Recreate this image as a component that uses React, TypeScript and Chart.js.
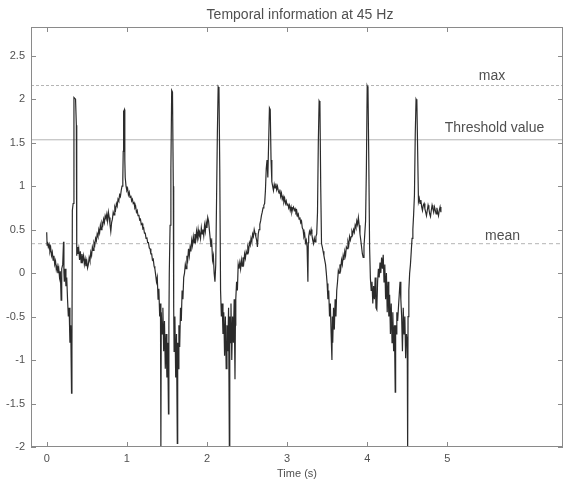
import React, { useEffect, useRef } from "react";
import { Chart, registerables } from "chart.js";

Chart.register(...registerables);

// ---- data ----
const traceTime = [
  0, 0.005, 0.01, 0.02, 0.03, 0.04, 0.05, 0.06, 0.07, 0.08,
  0.09, 0.10, 0.11, 0.12, 0.13, 0.14, 0.15, 0.16, 0.17, 0.18,
  0.185, 0.19, 0.20, 0.21, 0.215, 0.22, 0.23, 0.24, 0.25, 0.26,
  0.27, 0.28, 0.29, 0.30, 0.31, 0.315, 0.32, 0.33, 0.34, 0.36,
  0.37, 0.375, 0.38, 0.39, 0.40, 0.41, 0.42, 0.43, 0.44, 0.45,
  0.46, 0.47, 0.48, 0.49, 0.50, 0.51, 0.52, 0.53, 0.54, 0.55,
  0.56, 0.57, 0.58, 0.59, 0.60, 0.61, 0.62, 0.63, 0.64, 0.65,
  0.66, 0.67, 0.68, 0.69, 0.70, 0.71, 0.72, 0.73, 0.74, 0.75,
  0.76, 0.77, 0.78, 0.79, 0.80, 0.81, 0.82, 0.83, 0.84, 0.85,
  0.86, 0.87, 0.88, 0.89, 0.90, 0.91, 0.92, 0.93, 0.94, 0.95,
  0.955, 0.96, 0.97, 0.975, 0.98, 0.99, 1.00, 1.01, 1.02, 1.03,
  1.04, 1.05, 1.06, 1.07, 1.08, 1.09, 1.10, 1.11, 1.12, 1.13,
  1.14, 1.15, 1.16, 1.17, 1.18, 1.19, 1.20, 1.21, 1.22, 1.23,
  1.24, 1.25, 1.26, 1.27, 1.28, 1.29, 1.30, 1.31, 1.32, 1.33,
  1.34, 1.35, 1.36, 1.37, 1.38, 1.39, 1.40, 1.41, 1.42, 1.425,
  1.43, 1.44, 1.45, 1.46, 1.47, 1.48, 1.49, 1.50, 1.51, 1.52,
  1.525, 1.53, 1.54, 1.55, 1.56, 1.57, 1.58, 1.585, 1.59, 1.60,
  1.61, 1.62, 1.63, 1.635, 1.64, 1.65, 1.66, 1.67, 1.68, 1.69,
  1.70, 1.71, 1.72, 1.73, 1.74, 1.75, 1.76, 1.77, 1.78, 1.79,
  1.80, 1.81, 1.82, 1.83, 1.84, 1.85, 1.86, 1.87, 1.88, 1.89,
  1.90, 1.91, 1.92, 1.93, 1.94, 1.95, 1.96, 1.97, 1.98, 1.99,
  2.00, 2.01, 2.02, 2.03, 2.04, 2.05, 2.06, 2.07, 2.08, 2.09,
  2.10, 2.11, 2.12, 2.13, 2.14, 2.15, 2.16, 2.17, 2.18, 2.19,
  2.20, 2.21, 2.22, 2.23, 2.24, 2.25, 2.26, 2.27, 2.28, 2.285,
  2.29, 2.30, 2.31, 2.32, 2.33, 2.34, 2.35, 2.355, 2.36, 2.37,
  2.38, 2.39, 2.40, 2.41, 2.42, 2.43, 2.44, 2.45, 2.46, 2.47,
  2.48, 2.49, 2.50, 2.51, 2.52, 2.53, 2.54, 2.55, 2.56, 2.57,
  2.58, 2.59, 2.60, 2.61, 2.62, 2.63, 2.64, 2.65, 2.66, 2.67,
  2.68, 2.69, 2.70, 2.71, 2.72, 2.73, 2.74, 2.75, 2.76, 2.77,
  2.78, 2.79, 2.80, 2.81, 2.82, 2.83, 2.84, 2.85, 2.86, 2.87,
  2.88, 2.89, 2.90, 2.91, 2.92, 2.93, 2.94, 2.95, 2.96, 2.97,
  2.98, 2.99, 3.00, 3.01, 3.02, 3.03, 3.04, 3.05, 3.06, 3.07,
  3.08, 3.09, 3.10, 3.11, 3.12, 3.13, 3.14, 3.15, 3.16, 3.17,
  3.18, 3.19, 3.20, 3.21, 3.22, 3.23, 3.24, 3.25, 3.26, 3.265,
  3.27, 3.28, 3.29, 3.30, 3.31, 3.32, 3.33, 3.34, 3.35, 3.36,
  3.37, 3.38, 3.39, 3.40, 3.41, 3.42, 3.43, 3.44, 3.45, 3.46,
  3.47, 3.48, 3.49, 3.50, 3.51, 3.52, 3.53, 3.54, 3.55, 3.56,
  3.565, 3.57, 3.58, 3.59, 3.60, 3.61, 3.62, 3.63, 3.64, 3.65,
  3.66, 3.67, 3.68, 3.69, 3.70, 3.71, 3.72, 3.73, 3.74, 3.75,
  3.76, 3.77, 3.78, 3.79, 3.80, 3.81, 3.82, 3.83, 3.84, 3.85,
  3.86, 3.87, 3.88, 3.89, 3.90, 3.91, 3.92, 3.93, 3.94, 3.95,
  3.96, 3.97, 3.98, 3.99, 4.00, 4.01, 4.02, 4.03, 4.04, 4.05,
  4.06, 4.07, 4.08, 4.09, 4.10, 4.11, 4.12, 4.13, 4.14, 4.15,
  4.16, 4.17, 4.18, 4.19, 4.20, 4.21, 4.22, 4.23, 4.24, 4.25,
  4.26, 4.27, 4.28, 4.29, 4.30, 4.31, 4.32, 4.33, 4.34, 4.35,
  4.355, 4.36, 4.37, 4.38, 4.39, 4.40, 4.41, 4.42, 4.43, 4.44,
  4.45, 4.46, 4.47, 4.48, 4.49, 4.50, 4.505, 4.51, 4.52, 4.53,
  4.54, 4.55, 4.56, 4.57, 4.58, 4.59, 4.60, 4.61, 4.62, 4.63,
  4.64, 4.65, 4.66, 4.67, 4.68, 4.69, 4.70, 4.71, 4.72, 4.73,
  4.74, 4.75, 4.76, 4.77, 4.78, 4.79, 4.80, 4.81, 4.82, 4.83,
  4.84, 4.85, 4.86, 4.87, 4.88, 4.89, 4.90, 4.91, 4.92,
];

const traceValue = [
  0.47, 0.32, 0.36, 0.30, 0.33, 0.25, 0.29, 0.20, 0.24, 0.15,
  0.20, 0.10, 0.14, 0.04, 0.08, 0.00, 0.06, -0.05, 0.02, -0.31,
  0.00, 0.05, 0.10, 0.36, 0.00, -0.10, 0.05, -0.15, -0.05, -0.30,
  -0.50, -0.40, -0.80, -0.60, -1.38, -0.90, 0.72, 0.80, 2.02, 2.00,
  1.70, 0.20, 0.30, 0.22, 0.28, 0.15, 0.25, 0.12, 0.22, 0.15,
  0.20, 0.10, 0.16, 0.08, 0.14, 0.06, 0.10, 0.18, 0.14, 0.24,
  0.20, 0.30, 0.26, 0.35, 0.32, 0.40, 0.37, 0.45, 0.42, 0.50,
  0.46, 0.55, 0.50, 0.58, 0.55, 0.62, 0.58, 0.66, 0.63, 0.68,
  0.60, 0.70, 0.64, 0.56, 0.48, 0.58, 0.62, 0.70, 0.67, 0.76,
  0.73, 0.80, 0.77, 0.85, 0.83, 0.90, 0.88, 0.95, 1.00, 1.08,
  1.40, 1.86, 1.88, 1.30, 1.10, 1.00, 0.95, 0.97, 0.90, 0.93,
  0.87, 0.89, 0.83, 0.85, 0.80, 0.81, 0.75, 0.77, 0.70, 0.72,
  0.66, 0.67, 0.61, 0.62, 0.56, 0.57, 0.51, 0.52, 0.46, 0.46,
  0.40, 0.41, 0.35, 0.35, 0.29, 0.28, 0.22, 0.22, 0.15, 0.16,
  0.08, 0.05, -0.02, -0.10, -0.05, -0.30, -0.18, -0.50, -0.35, -2.05,
  -0.45, -0.70, -0.40, -0.90, -0.55, -1.10, -0.70, -1.20, -0.80, -1.62,
  -0.60, 0.00, 0.55, 1.20, 2.10, 2.08, 1.00, -0.40, -0.90, -0.50,
  -1.20, -0.70, -1.96, -0.80, -1.10, -0.60, -0.85, -0.40, -0.55, -0.20,
  -0.30, -0.05, 0.00, 0.10, 0.05, 0.20, 0.15, 0.28, 0.20, 0.30,
  0.25, 0.38, 0.32, 0.42, 0.35, 0.45, 0.38, 0.48, 0.40, 0.50,
  0.42, 0.46, 0.40, 0.52, 0.45, 0.50, 0.43, 0.55, 0.48, 0.58,
  0.52, 0.64, 0.60, 0.50, 0.40, 0.30, 0.35, 0.15, 0.20, 0.00,
  -0.10, 0.10, 0.84, 1.60, 2.14, 2.12, 1.20, -0.20, -0.50, -0.35,
  -0.70, -0.45, -0.95, -0.50, -1.10, -0.60, -0.90, -0.40, -2.05, -0.50,
  -0.80, -0.35, -1.00, -0.50, -0.80, -0.30, -1.22, -0.60, -0.30, -0.10,
  -0.20, 0.10, 0.05, 0.12, 0.05, 0.15, 0.08, 0.18, 0.12, 0.22,
  0.17, 0.25, 0.22, 0.30, 0.26, 0.35, 0.32, 0.40, 0.36, 0.45,
  0.42, 0.50, 0.46, 0.42, 0.38, 0.30, 0.45, 0.50, 0.56, 0.60,
  0.66, 0.70, 0.75, 0.78, 0.80, 0.95, 1.20, 1.30, 1.10, 1.50,
  1.90, 1.88, 1.30, 1.05, 1.00, 0.95, 1.02, 0.98, 1.03, 0.96,
  1.00, 0.95, 0.92, 0.96, 0.88, 0.92, 0.85, 0.88, 0.82, 0.86,
  0.80, 0.83, 0.78, 0.80, 0.75, 0.78, 0.72, 0.76, 0.70, 0.74,
  0.76, 0.72, 0.74, 0.70, 0.72, 0.66, 0.68, 0.62, 0.64, 0.58,
  0.60, 0.52, 0.50, 0.42, 0.45, 0.35, 0.38, 0.30, -0.10, 0.35,
  0.42, 0.48, 0.45, 0.50, 0.44, 0.38, 0.34, 0.40, 0.36, 0.42,
  0.45, 0.70, 1.50, 1.98, 1.96, 1.00, 0.34, 0.30, 0.25, 0.20,
  0.15, 0.10, 0.00, -0.12, -0.30, -0.20, -0.50, -0.35, -0.70, -1.00,
  -0.50, -0.80, -0.40, -0.65, -0.30, -0.50, -0.20, -0.10, 0.03, 0.00,
  0.10, 0.05, 0.15, 0.10, 0.20, 0.15, 0.25, 0.20, 0.30, 0.28,
  0.36, 0.32, 0.42, 0.38, 0.42, 0.48, 0.45, 0.50, 0.47, 0.55,
  0.52, 0.60, 0.56, 0.64, 0.55, 0.45, 0.38, 0.30, 0.22, 0.18,
  0.30, 0.45, 0.60, 1.20, 2.15, 2.12, 1.30, 0.30, -0.06, -0.20,
  -0.10, -0.35, -0.15, -0.30, -0.05, -0.40, -0.42, -0.10, 0.05, -0.05,
  0.12, 0.00, 0.18, 0.05, 0.21, -0.10, 0.10, -0.30, 0.00, -0.45,
  -0.10, -0.50, -0.25, -0.70, -0.35, -0.80, -0.45, -0.90, -0.60, -1.37,
  -0.60, -0.70, -0.45, -0.55, -0.40, -0.25, -0.10, -0.30, -0.50, -0.90,
  -0.40, -0.70, -0.50, -0.98, -0.70, -0.80, -2.05, -0.50, -0.20, 0.00,
  0.10, 0.25, 0.40, 0.50, 0.68, 0.90, 1.60, 2.00, 1.98, 1.40,
  0.82, 0.86, 0.80, 0.84, 0.76, 0.72, 0.78, 0.80, 0.74, 0.70,
  0.66, 0.72, 0.78, 0.74, 0.68, 0.65, 0.72, 0.78, 0.74, 0.70,
  0.76, 0.72, 0.68, 0.75, 0.70, 0.66, 0.72, 0.76, 0.70,
];

const xTickValues = [0, 1, 2, 3, 4, 5];
const yTickValues = [-2, -1.5, -1, -0.5, 0, 0.5, 1, 1.5, 2, 2.5];

const levelNames = ["max", "Threshold value", "mean"];
const levelValues = [2.157, 1.533, 0.338];

const chartTitle = "Temporal information at 45 Hz";
const xAxisTitle = "Time (s)";

// axis extents
const X_MIN = -0.196;
const X_MAX = 6.444;
const Y_MIN = -2;
const Y_MAX = 2.83;

// where the level captions sit (data coordinates, text baseline)
const levelLabelPlacement = [
  { x: 5.558, y: 2.215 },
  { x: 5.589, y: 1.623 },
  { x: 5.689, y: 0.376 },
];

const levelStyles = [
  { color: "#b4b4b4", dash: [3, 2] },
  { color: "#b4b4b4", dash: [] as number[] },
  { color: "#b4b4b4", dash: [4, 3] },
];

const FONT = '"Liberation Sans", Arial, Helvetica, sans-serif';
const TEXT = "#505050";

const decorPlugin = {
  id: "decor",
  afterDraw(chart: any) {
    const { ctx, chartArea: a, scales } = chart;
    const x = scales.x;
    const y = scales.y;
    ctx.save();
    // frame
    ctx.strokeStyle = "#8a8a8a";
    ctx.lineWidth = 1;
    ctx.strokeRect(
      Math.round(a.left) + 0.5,
      Math.round(a.top) + 0.5,
      Math.round(a.right - a.left) - 1,
      Math.round(a.bottom - a.top) - 1
    );
    // inward ticks
    ctx.beginPath();
    for (const v of xTickValues) {
      const px = Math.round(x.getPixelForValue(v)) + 0.5;
      ctx.moveTo(px, a.bottom);
      ctx.lineTo(px, a.bottom - 5);
      ctx.moveTo(px, a.top);
      ctx.lineTo(px, a.top + 5);
    }
    for (const v of yTickValues) {
      const py = Math.round(y.getPixelForValue(v)) + 0.5;
      ctx.moveTo(a.left, py);
      ctx.lineTo(a.left + 5, py);
      ctx.moveTo(a.right, py);
      ctx.lineTo(a.right - 5, py);
    }
    ctx.stroke();
    // level captions
    ctx.fillStyle = TEXT;
    ctx.font = `14px ${FONT}`;
    ctx.textAlign = "center";
    ctx.textBaseline = "alphabetic";
    levelNames.forEach((name, i) => {
      const p = levelLabelPlacement[i];
      ctx.fillText(name, x.getPixelForValue(p.x), y.getPixelForValue(p.y));
    });
    // title
    ctx.fillText(chartTitle, (a.left + a.right) / 2 + 3, 18.5);
    ctx.restore();
  },
};

export default function App() {
  const canvasRef = useRef<HTMLCanvasElement | null>(null);

  useEffect(() => {
    const canvas = canvasRef.current;
    if (!canvas) return;

    const signalPoints = traceTime.map((t, i) => ({ x: t, y: traceValue[i] }));

    const levelDatasets = levelValues.map((v, i) => ({
      label: levelNames[i],
      data: [
        { x: X_MIN, y: v },
        { x: X_MAX, y: v },
      ],
      borderColor: levelStyles[i].color,
      borderWidth: 1,
      borderDash: levelStyles[i].dash,
      pointRadius: 0,
      fill: false,
      order: 2,
    }));

    const chart = new Chart(canvas, {
      type: "line",
      data: {
        datasets: [
          ...levelDatasets,
          {
            label: "signal",
            data: signalPoints,
            borderColor: "#2b2b2b",
            borderWidth: 1.2,
            pointRadius: 0,
            tension: 0,
            fill: false,
            order: 1,
          },
        ],
      },
      options: {
        animation: false,
        responsive: false,
        maintainAspectRatio: false,
        devicePixelRatio: 1,
        parsing: false as any,
        normalized: true,
        layout: { padding: { left: 0, right: 3, top: 27, bottom: 0 } },
        plugins: {
          legend: { display: false },
          title: { display: false },
          tooltip: { enabled: false },
        },
        scales: {
          x: {
            type: "linear",
            min: X_MIN,
            max: X_MAX,
            grid: { display: false, drawTicks: false },
            border: { display: false },
            afterFit: (s: any) => {
              s.height = 35;
            },
            afterBuildTicks: (s: any) => {
              s.ticks = xTickValues.map((v) => ({ value: v }));
            },
            ticks: {
              color: TEXT,
              font: { family: FONT, size: 11 },
              padding: 5,
              maxRotation: 0,
              autoSkip: false,
              callback: (v: any) => String(v),
            },
            title: {
              display: true,
              text: xAxisTitle,
              color: TEXT,
              font: { family: FONT, size: 11 },
              padding: { top: 0, bottom: 1 },
            },
          },
          y: {
            type: "linear",
            min: Y_MIN,
            max: Y_MAX,
            grid: { display: false, drawTicks: false },
            border: { display: false },
            afterFit: (s: any) => {
              s.width = 31;
            },
            afterBuildTicks: (s: any) => {
              s.ticks = yTickValues.map((v) => ({ value: v }));
            },
            ticks: {
              color: TEXT,
              font: { family: FONT, size: 11 },
              padding: 6,
              autoSkip: false,
              callback: (v: any) => String(v),
            },
          },
        },
      },
      plugins: [decorPlugin],
    });

    return () => chart.destroy();
  }, []);

  return (
    <div
      style={{
        position: "absolute",
        left: 0,
        top: 0,
        width: 566,
        height: 482,
        background: "#fff",
      }}
    >
      <canvas ref={canvasRef} width={566} height={482} style={{ width: 566, height: 482, display: "block" }} />
    </div>
  );
}
